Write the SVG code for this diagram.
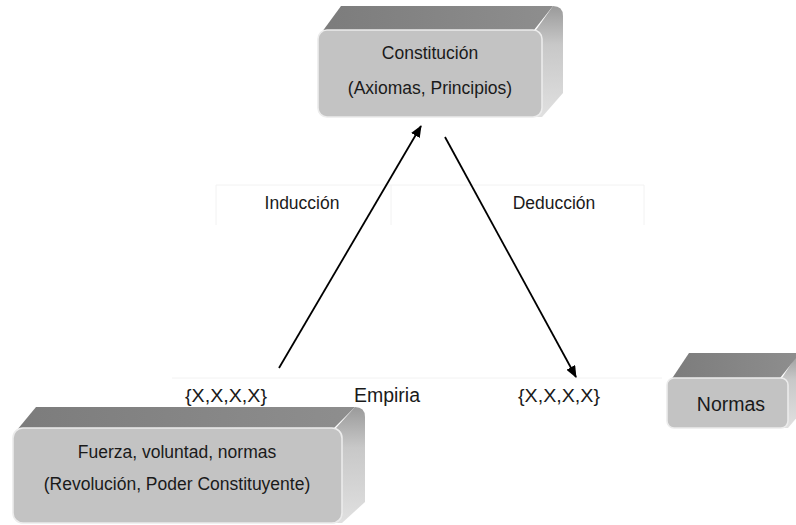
<svg xmlns="http://www.w3.org/2000/svg" width="796" height="525" viewBox="0 0 796 525">
<style>
  .t { font-family: "Liberation Sans", Arial, sans-serif; font-size: 17.5px; fill: #1a1a1a; text-anchor: middle; }
  .big { font-size: 19.5px; }
  .front { fill: #c3c3c3; stroke: #ececec; stroke-width: 1.6; }
  .top { fill: url(#gTop); }
  .side { fill: url(#gSide); }
  .grid { stroke: #f2f2f2; stroke-width: 1; fill: none; }
  .conn { stroke: #000; stroke-width: 1.8; fill: none; }
</style>
<defs>
  <linearGradient id="gTop" x1="0" y1="0" x2="1" y2="0">
    <stop offset="0" stop-color="#7c7c7c"/>
    <stop offset="1" stop-color="#8e8e8e"/>
  </linearGradient>
  <linearGradient id="gSide" x1="0" y1="0" x2="0" y2="1">
    <stop offset="0" stop-color="#9a9a9a"/>
    <stop offset="0.35" stop-color="#c8c8c8"/>
    <stop offset="1" stop-color="#e0e0e0"/>
  </linearGradient>
  <marker id="ah" viewBox="0 0 12 10" refX="11" refY="5" markerWidth="12" markerHeight="10" markerUnits="userSpaceOnUse" orient="auto">
    <path d="M0,0 L12,5 L0,10 Z" fill="#000"/>
  </marker>
</defs>
<rect width="796" height="525" fill="#fff"/>

<g id="grid">
  <path class="grid" d="M216,185 H644 M216,185 V225 M391,185 V225 M644,185 V225 M172,378 H662"/>
</g>

<g id="constitucion">
  <path class="side" d="M536,30 L553,6 Q563,6 563,16 L563,93 L542,117 L536,117 Z"/>
  <path class="top" d="M322,32 L341,6 L553,6 L534,30 Z"/>
  <rect class="front" x="318" y="30" width="224" height="87" rx="9"/>
  <text class="t" x="430" y="59">Constitución</text>
  <text class="t" x="430" y="94">(Axiomas, Principios)</text>
</g>

<g id="fuerza">
  <path class="side" d="M336,428 L355,407 Q365,407 365,417 L365,502 L342,523 L336,523 Z"/>
  <path class="top" d="M17,430 L36,407 L355,407 L334,428 Z"/>
  <rect class="front" x="13" y="428" width="329" height="95" rx="10"/>
  <text class="t" x="177" y="458">Fuerza, voluntad, normas</text>
  <text class="t" x="177" y="490">(Revolución, Poder Constituyente)</text>
</g>

<g id="normas">
  <path class="side" d="M782,378 L798,353 L808,353 L808,404 L788,428 L782,428 Z"/>
  <path class="top" d="M671,380 L689,353 L800,353 L780,378 Z"/>
  <rect class="front" x="667" y="378" width="121" height="50" rx="7"/>
  <text class="t big" x="731" y="411">Normas</text>
</g>

<g id="connectors">
  <line class="conn" x1="279" y1="368" x2="421" y2="126" marker-end="url(#ah)"/>
  <line class="conn" x1="445" y1="137" x2="576" y2="377" marker-end="url(#ah)"/>
</g>

<g id="labels">
  <text class="t" x="302" y="209">Inducción</text>
  <text class="t" x="554" y="209">Deducción</text>
  <text class="t" x="226" y="402" textLength="82" lengthAdjust="spacingAndGlyphs">{X,X,X,X}</text>
  <text class="t big" x="387" y="402">Empiria</text>
  <text class="t" x="559" y="402" textLength="82" lengthAdjust="spacingAndGlyphs">{X,X,X,X}</text>
</g>
</svg>
